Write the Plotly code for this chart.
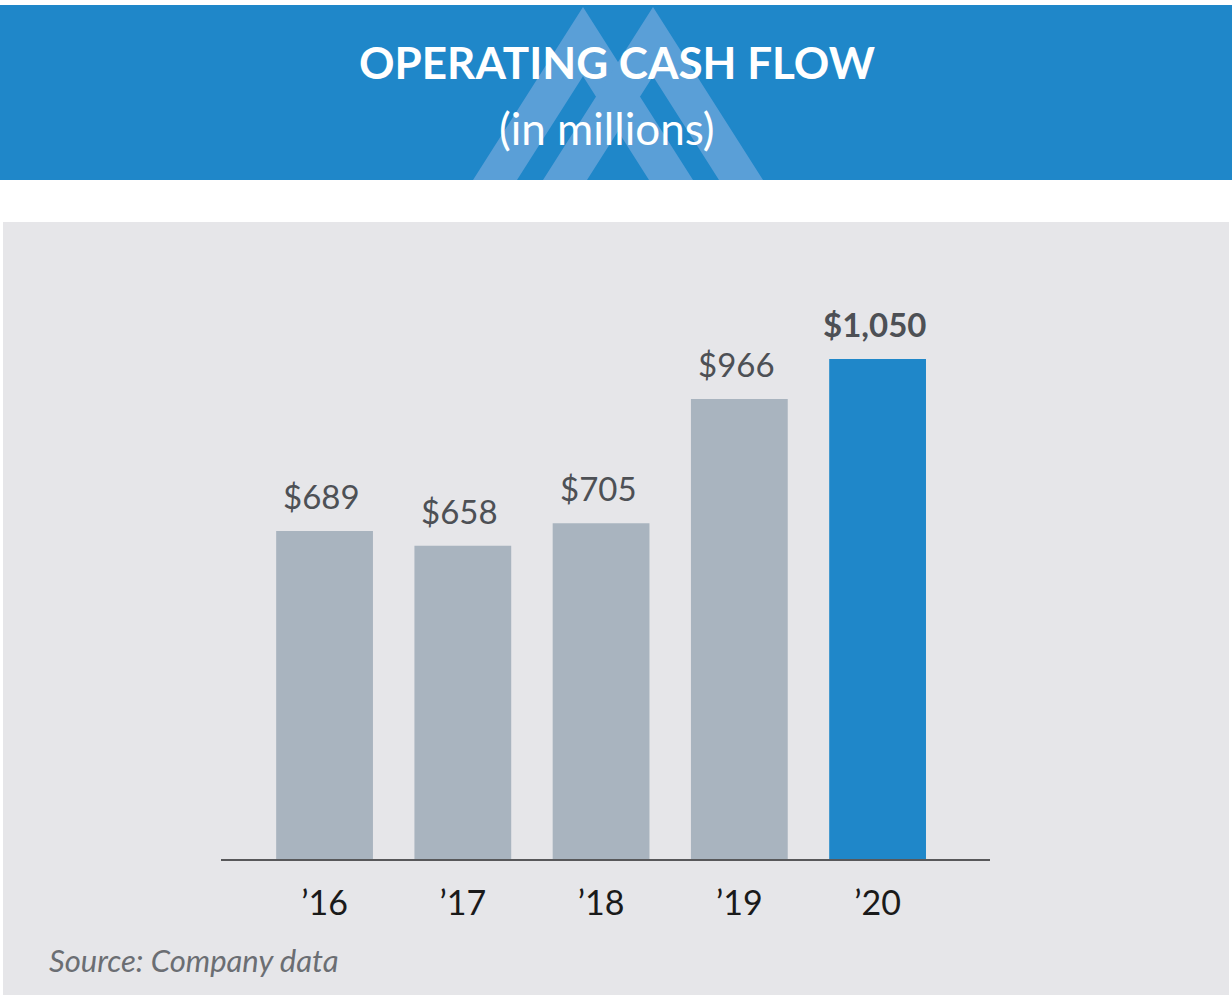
import plotly.graph_objects as go

# ---- data ----
years = ["’16", "’17", "’18", "’19", "’20"]
cash_flow = [689, 658, 705, 966, 1050]
value_labels = ["$689", "$658", "$705", "$966", "$1,050"]
highlight = [False, False, False, False, True]

title_text = "OPERATING CASH FLOW"
subtitle_text = "(in millions)"
source_text = "Source: Company data"

# ---- styling ----
W, H = 1232, 997
BLUE = "#1F87C9"
BAR_GREY = "#A9B4BF"
PANEL = "#E6E6E9"
LOGO = "#5A9FD7"
FONT = "Lato, 'Open Sans', sans-serif"


def px(x):
    return x / W


def py(y):
    return 1 - y / H


x_idx = list(range(len(years)))
colors = [BLUE if h else BAR_GREY for h in highlight]

fig = go.Figure()
fig.add_trace(go.Bar(
    x=x_idx, y=cash_flow, width=0.70,
    marker=dict(color=colors, line=dict(width=0)),
    hoverinfo="skip", showlegend=False,
))

# value labels
for i, (v, lab, h) in enumerate(zip(cash_flow, value_labels, highlight)):
    fig.add_annotation(
        x=i, y=v, xref="x", yref="y", text=f"<b>{lab}</b>" if h else lab,
        showarrow=False, yanchor="bottom", yshift=13, xshift=-3,
        font=dict(family=FONT, size=33, color="#4D5055"),
    )

shapes = []
# header band
shapes.append(dict(type="rect", xref="paper", yref="paper",
                   x0=px(0), x1=px(1232), y0=py(180), y1=py(5),
                   fillcolor=BLUE, line=dict(width=0), layer="below"))


def chevron(apex_x, apex_y=7, bottom=180, half=110, band=44):
    inner_top = bottom - (half - band) * (bottom - apex_y) / half
    pts = [(apex_x - half, bottom), (apex_x, apex_y), (apex_x + half, bottom),
           (apex_x + half - band, bottom), (apex_x, inner_top),
           (apex_x - half + band, bottom)]
    d = "M " + " L ".join(f"{px(a):.5f},{py(b):.5f}" for a, b in pts) + " Z"
    return dict(type="path", xref="paper", yref="paper", path=d,
                fillcolor=LOGO, line=dict(width=0), layer="below")


shapes.append(chevron(583))
shapes.append(chevron(653))
# grey panel
shapes.append(dict(type="rect", xref="paper", yref="paper",
                   x0=px(3), x1=px(1229), y0=py(995), y1=py(222),
                   fillcolor=PANEL, line=dict(width=0), layer="below"))

fig.update_layout(
    width=W, height=H,
    margin=dict(l=0, r=0, t=0, b=0),
    paper_bgcolor="white", plot_bgcolor="rgba(0,0,0,0)",
    shapes=shapes,
    bargap=0.3,
    font=dict(family=FONT),
    xaxis=dict(
        domain=[px(221), px(990)], range=[-0.749, 4.813],
        tickmode="array", tickvals=x_idx, ticktext=years,
        tickfont=dict(family=FONT, size=34, color="#1A1A1A"),
        showline=True, linecolor="#58585A", linewidth=2,
        showgrid=False, zeroline=False, ticks="", ticklabelstandoff=13,
        fixedrange=True,
    ),
    yaxis=dict(
        domain=[py(859), py(259)], range=[0, 1260],
        visible=False, showgrid=False, zeroline=False, fixedrange=True,
    ),
    annotations=list(fig.layout.annotations) + [
        dict(text=f"<b>{title_text}</b>", x=px(617), y=py(62), xref="paper", yref="paper",
             showarrow=False, xanchor="center", yanchor="middle",
             font=dict(family=FONT, size=44, color="white")),
        dict(text=subtitle_text, x=px(607), y=py(128), xref="paper", yref="paper",
             showarrow=False, xanchor="center", yanchor="middle",
             font=dict(family=FONT, size=44, color="white")),
        dict(text=f"<i>{source_text}</i>", x=px(47), y=py(960), xref="paper", yref="paper",
             showarrow=False, xanchor="left", yanchor="middle",
             font=dict(family=FONT, size=31, color="#6B6E73")),
    ],
)

fig.write_html("out.html", config={"displayModeBar": False},
               post_script="document.body.style.margin='0';")
